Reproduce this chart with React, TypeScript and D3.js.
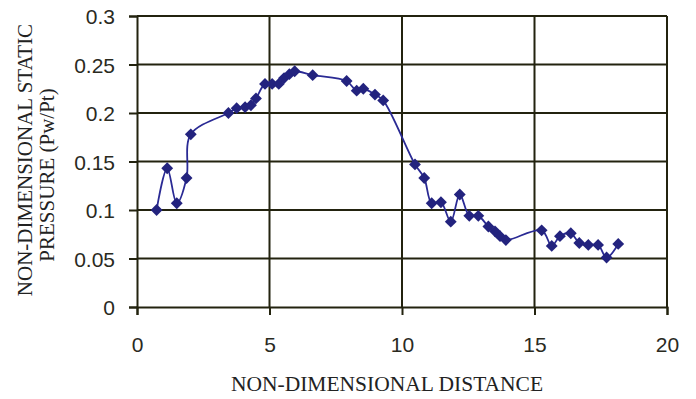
import React, { useEffect, useRef } from 'react';
import * as d3 from 'd3';

// values
const distance = [
  0.74, 1.14, 1.5, 1.87, 2.03, 3.45, 3.76, 4.08, 4.3, 4.49, 4.83, 5.1, 5.35, 5.55, 5.75, 5.95,
  6.63, 7.91, 8.29, 8.54, 8.98, 9.29, 10.49, 10.84, 11.12, 11.47, 11.84, 12.18, 12.54, 12.88,
  13.26, 13.51, 13.7, 13.92, 15.27, 15.65, 15.96, 16.37, 16.69, 17.03, 17.4, 17.72, 18.16,
];
const pressure = [
  0.1, 0.143, 0.107, 0.133, 0.178, 0.2, 0.205, 0.206, 0.208, 0.215, 0.23, 0.23, 0.23, 0.236, 0.24, 0.243,
  0.239, 0.233, 0.223, 0.225, 0.219, 0.213, 0.147, 0.133, 0.107, 0.108, 0.088, 0.116, 0.094, 0.094,
  0.083, 0.078, 0.073, 0.069, 0.079, 0.063, 0.073, 0.076, 0.066, 0.064, 0.064, 0.051, 0.065,
];
const xTicks = [0, 5, 10, 15, 20];
const yTicks = [0, 0.05, 0.1, 0.15, 0.2, 0.25, 0.3];
const xTitle = 'NON-DIMENSIONAL DISTANCE';
const yTitle = ['NON-DIMENSIONAL STATIC', 'PRESSURE (Pw/Pt)'];

const App = () => {
  const ref = useRef<SVGSVGElement>(null);

  useEffect(() => {
    const width = 696;
    const height = 399;
    const margin = { top: 16, left: 137, right: 29, bottom: 92 };

    const svg = d3.select(ref.current).attr('width', width).attr('height', height);
    svg.selectAll('*').remove();

    const xScale = d3.scaleLinear().domain([0, 20]).range([margin.left, width - margin.right]);
    const yScale = d3.scaleLinear().domain([0, 0.3]).range([height - margin.bottom, margin.top]);

    const gridColor = '#23230f';
    const labelFont = '"Liberation Sans", Arial, sans-serif';
    const titleFont = '"Liberation Serif", "Times New Roman", serif';

    // grid
    svg.append('g')
      .selectAll('line')
      .data(yTicks.slice(1))
      .join('line')
      .attr('x1', xScale(0)).attr('x2', xScale(20))
      .attr('y1', d => yScale(d)).attr('y2', d => yScale(d))
      .attr('stroke', gridColor).attr('stroke-width', 2);

    svg.append('g')
      .selectAll('line')
      .data(xTicks.slice(1))
      .join('line')
      .attr('x1', d => xScale(d)).attr('x2', d => xScale(d))
      .attr('y1', yScale(0)).attr('y2', yScale(0.3))
      .attr('stroke', gridColor).attr('stroke-width', 2);

    // axes
    const xAxis = svg.append('g')
      .attr('transform', `translate(0, ${yScale(0)})`)
      .call(d3.axisBottom(xScale).tickValues(xTicks).tickSize(8).tickPadding(22).tickFormat(d3.format('d')));
    const yAxis = svg.append('g')
      .attr('transform', `translate(${xScale(0)}, 0)`)
      .call(d3.axisLeft(yScale).tickValues(yTicks).tickSize(8).tickPadding(14).tickFormat(d => `${+d}`));

    [xAxis, yAxis].forEach(ax => {
      ax.select('.domain').attr('stroke', gridColor).attr('stroke-width', 2);
      ax.selectAll('.tick line').attr('stroke', gridColor).attr('stroke-width', 2);
      ax.selectAll('.tick text')
        .attr('fill', '#2a2a1e')
        .attr('font-family', labelFont)
        .attr('font-size', 21);
    });
    yAxis.selectAll('.tick text').attr('dy', '0.36em');

    // series
    const points = distance.map((d, i) => [d, pressure[i]] as [number, number]);
    const lineGen = d3.line<[number, number]>()
      .x(d => xScale(d[0]))
      .y(d => yScale(d[1]))
      .curve(d3.curveCatmullRom.alpha(0.5));

    svg.append('path')
      .datum(points)
      .attr('d', lineGen)
      .attr('fill', 'none')
      .attr('stroke', '#2a2a94')
      .attr('stroke-width', 1.8);

    svg.append('g')
      .selectAll('path')
      .data(points)
      .join('path')
      .attr('d', d3.symbol(d3.symbolSquare, 70))
      .attr('transform', d => `translate(${xScale(d[0])}, ${yScale(d[1])}) rotate(45)`)
      .attr('fill', '#23237e');

    // titles
    svg.append('text')
      .attr('x', 387)
      .attr('y', 391)
      .attr('text-anchor', 'middle')
      .attr('font-family', titleFont)
      .attr('font-size', 21.5)
      .attr('fill', '#222')
      .text(xTitle);

    svg.append('g')
      .attr('transform', 'translate(32, 160) rotate(-90)')
      .append('text')
      .attr('text-anchor', 'middle')
      .attr('font-family', titleFont)
      .attr('font-size', 21)
      .attr('fill', '#222')
      .text(yTitle[0]);

    svg.append('g')
      .attr('transform', 'translate(54, 175) rotate(-90)')
      .append('text')
      .attr('text-anchor', 'middle')
      .attr('font-family', titleFont)
      .attr('font-size', 21)
      .attr('fill', '#222')
      .text(yTitle[1]);
  }, []);

  return (
    <div>
      <svg ref={ref} style={{ position: 'absolute', left: 0, top: 0, background: '#fff' }} />
    </div>
  );
};

export default App;
